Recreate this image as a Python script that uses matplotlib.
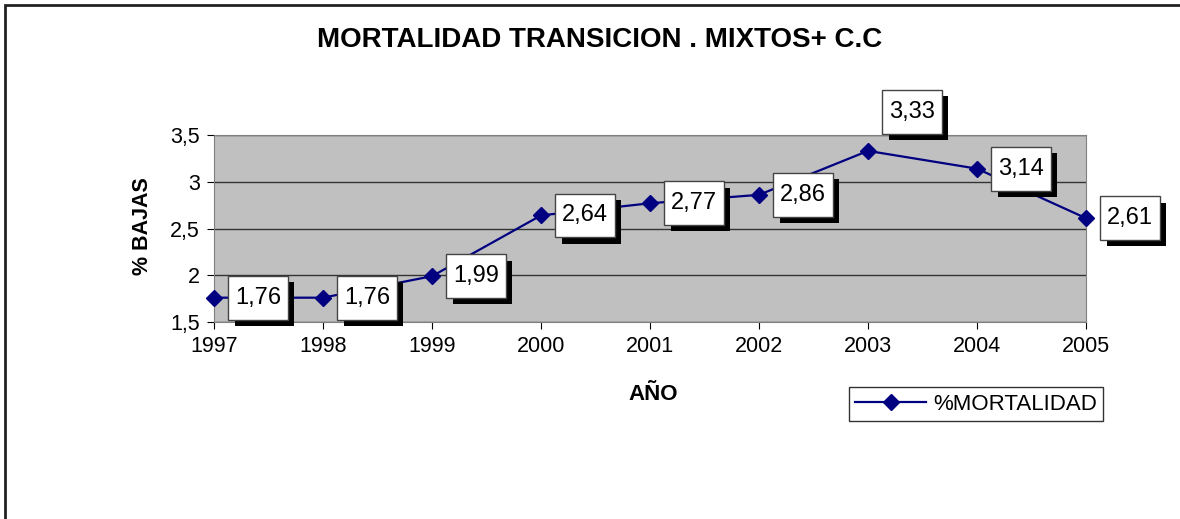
"""
Mortalidad transición: línea con etiquetas en caja con sombra
"""
import matplotlib
matplotlib.use("Agg")
import matplotlib.pyplot as plt
import matplotlib.patheffects as pe
from matplotlib.patches import Rectangle
from matplotlib.path import Path

plt.rcParams['font.family'] = ['Liberation Sans', 'DejaVu Sans']

years = [1997, 1998, 1999, 2000, 2001, 2002, 2003, 2004, 2005]
mortalidad = [1.76, 1.76, 1.99, 2.64, 2.77, 2.86, 3.33, 3.14, 2.61]
y_ticks = [1.5, 2, 2.5, 3, 3.5]
y_tick_labels = ['1,5', '2', '2,5', '3', '3,5']


def caja_alta(x0, y0, width, height, mutation_size):
    # caja con más relleno vertical que horizontal (como Excel)
    px = 0.28 * mutation_size
    py = 0.46 * mutation_size
    x0, y0 = x0 - px, y0 - py
    x1, y1 = x0 + width + 2 * px, y0 + height + 2 * py
    return Path([(x0, y0), (x1, y0), (x1, y1), (x0, y1), (x0, y0)], closed=True)


fig = plt.figure(figsize=(11.8, 5.19), dpi=100)

# marco de la figura (solo se ven borde izquierdo y superior)
fig.patches.append(Rectangle((5 / 1180, -0.1), 1.2, 1.1 - 5 / 519,
                             transform=fig.transFigure, fill=False,
                             edgecolor='#222222', linewidth=2))

ax = fig.add_axes([214 / 1180, 1 - 322 / 519, (1086 - 214) / 1180, (322 - 135) / 519])
ax.set_facecolor('#C0C0C0')

ax.plot(years, mortalidad, color='#000080', marker='D', markersize=8,
        linewidth=1.6, label='%MORTALIDAD', clip_on=False, zorder=3)

ax.set_xlim(1997, 2005)
ax.set_ylim(1.5, 3.5)
ax.set_xticks(years)
ax.set_xticklabels([str(y) for y in years], fontsize=15.5)
ax.set_yticks(y_ticks)
ax.set_yticklabels(y_tick_labels, fontsize=15.5)
ax.tick_params(direction='out', length=5, color='black', pad=5)
ax.grid(axis='y', color='#333333', linewidth=1)
ax.set_axisbelow(True)
for side in ['top', 'right', 'left', 'bottom']:
    ax.spines[side].set_color('#808080')

# etiquetas de datos
for x, v in zip(years, mortalidad):
    dy = 39 if x == 2003 else 0
    t = ax.annotate(f'{v:.2f}'.replace('.', ','), (x, v),
                    xytext=(44, dy), textcoords='offset pixels',
                    ha='center', va='center', fontsize=17, zorder=5,
                    annotation_clip=False,
                    bbox=dict(boxstyle=caja_alta, facecolor='white',
                              edgecolor='#444444', linewidth=1))
    t.get_bbox_patch().set_path_effects([
        pe.SimplePatchShadow(offset=(4.5, -4.5), shadow_rgbFace='black', alpha=1),
        pe.Normal()])

fig.text(600 / 1180, 1 - 40 / 519, 'MORTALIDAD TRANSICION . MIXTOS+ C.C',
         ha='center', va='center', fontsize=20, fontweight='bold')
fig.text(143 / 1180, 1 - 226 / 519, '% BAJAS', ha='center', va='center',
         rotation=90, fontsize=15.5, fontweight='bold')
fig.text(653 / 1180, 1 - 395 / 519, 'AÑO', ha='center', va='center',
         fontsize=16, fontweight='bold')

leg = fig.legend(loc='center', bbox_to_anchor=(976 / 1180, 1 - 404 / 519),
                 fontsize=16, frameon=True, fancybox=False, handlelength=3.2,
                 borderpad=0.3, handletextpad=0.3)
leg.get_frame().set_edgecolor('black')
leg.get_frame().set_linewidth(1)

fig.savefig('out.png', dpi=100)
